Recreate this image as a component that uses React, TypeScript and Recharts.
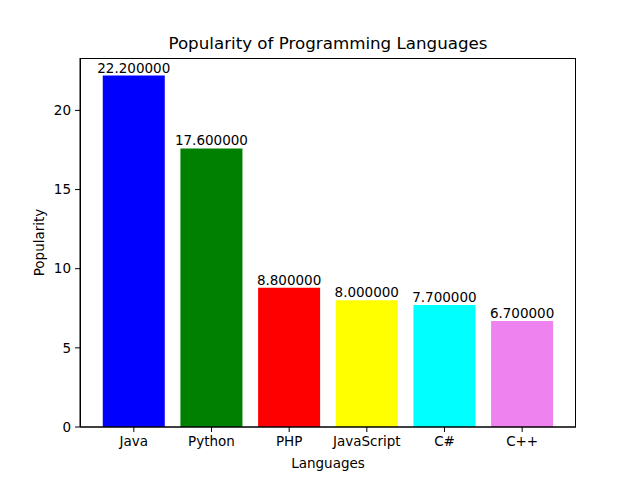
import React from 'react';
import {
    BarChart,
    Bar,
    XAxis,
    YAxis,
    Cell,
    LabelList,
    Label,
} from 'recharts';

const languages = ['Java', 'Python', 'PHP', 'JavaScript', 'C#', 'C++'];
const popularity = [22.2, 17.6, 8.8, 8.0, 7.7, 6.7];
const barColors = ['#0000ff', '#008000', '#ff0000', '#ffff00', '#00ffff', '#ee82ee'];
const yTicks = [0, 5, 10, 15, 20];

const data = languages.map((name, i) => ({name, value: popularity[i]}));

const font = 'DejaVu Sans, sans-serif';
const fs = 13.5;
const tickStyle = {fill: '#000', fontSize: fs, fontFamily: font};

const App = () => {
    return (
        <div style={{position: 'absolute', left: 0, top: 0, width: 640, height: 480, background: '#fff'}}>
            <BarChart
                width={640}
                height={480}
                data={data}
                margin={{top: 58, right: 64, bottom: 23, left: 20}}
                barCategoryGap="10%"
                style={{position: 'absolute', left: 0, top: 0}}
            >
                <XAxis
                    dataKey="name"
                    padding={{left: 15, right: 15}}
                    height={30}
                    stroke="#000"
                    tick={tickStyle}
                    tickSize={5}
                    tickMargin={4}
                    interval={0}
                >
                    <Label value="Languages" position="insideBottom" offset={-11}
                           style={{fill: '#000', fontSize: fs, fontFamily: font}}/>
                </XAxis>
                <YAxis
                    type="number"
                    domain={[0, 23.31]}
                    ticks={yTicks}
                    width={60}
                    stroke="#000"
                    tick={tickStyle}
                    tickSize={5}
                    tickMargin={4}
                >
                    <Label value="Popularity" angle={-90} position="insideLeft" offset={19}
                           style={{fill: '#000', fontSize: fs, fontFamily: font, textAnchor: 'middle'}}/>
                </YAxis>
                <Bar dataKey="value" isAnimationActive={false}>
                    {data.map((d, i) => (
                        <Cell key={d.name} fill={barColors[i]}/>
                    ))}
                    <LabelList
                        dataKey="value"
                        position="top"
                        offset={3}
                        formatter={(v: number) => v.toFixed(6)}
                        style={{fill: '#000', fontSize: fs, fontFamily: font}}
                    />
                </Bar>
            </BarChart>
            {/* title and the axes frame */}
            <svg width={640} height={480} style={{position: 'absolute', left: 0, top: 0, pointerEvents: 'none'}}>
                <text x={328} y={49} textAnchor="middle" fontSize={16.7} fontFamily={font} fill="#000">
                    Popularity of Programming Languages
                </text>
                <rect x={80.5} y={58.5} width={495} height={368.5} fill="none" stroke="#000" strokeWidth={1}/>
            </svg>
        </div>
    );
}

export default App;
